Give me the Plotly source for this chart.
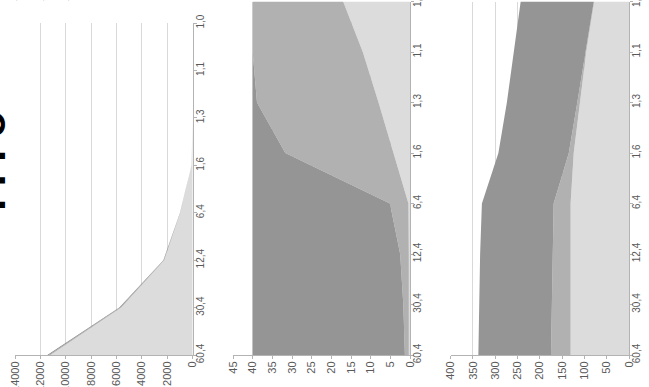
import plotly.graph_objects as go

# ---------------- data ----------------
categories = ["1,0", "1,1", "1,3", "1,6", "6,4", "12,4", "30,4", "60,4"]

# left panel (0..14000)
left_light = [0, 0, 0, 100, 980, 2240, 5620, 11200]
left_medium = [0, 0, 0, 0, 10, 40, 100, 150]
left_dark = [0, 0, 0, 0, 10, 30, 60, 100]
left_ticks = [0, 2000, 4000, 6000, 8000, 10000, 12000, 14000]

# middle panel (0..45)
mid_light = [17.0, 12.0, 8.0, 4.2, 0.4, 0.3, 0.3, 0.3]
mid_medium = [23.0, 28.0, 30.9, 27.5, 4.7, 2.2, 1.4, 1.0]
mid_dark = [0.0, 0.0, 1.1, 8.3, 34.9, 37.5, 38.3, 38.7]
mid_ticks = [0, 5, 10, 15, 20, 25, 30, 35, 40, 45]

# right panel (0..400)
right_light = [78, 96, 110, 124, 131, 131, 131, 131]
right_medium = [1, 1, 6, 11, 38, 40, 42, 44]
right_dark = [164, 162, 158, 158, 161, 163, 163, 163]
right_ticks = [0, 50, 100, 150, 200, 250, 300, 350, 400]

# fragments of labels cut off at the top edge of the picture
top_fragments = ["1", "1", "1"]

C_LIGHT = "#dcdcdc"
C_MED = "#b1b1b1"
C_DARK = "#959595"
TXT = "#595959"
GRID = "#d9d9d9"
AXL = "#b3b3b3"

W, H = 649, 387
fig = go.Figure()


def px_x(p):
    return p / W


def px_y(p):
    return (H - p) / H


def add_stack(idx, series, group):
    xa = "x" if idx == 1 else f"x{idx}"
    ya = "y" if idx == 1 else f"y{idx}"
    for vals, col in series:
        fig.add_trace(go.Scatter(
            x=vals, y=categories, orientation="h", stackgroup=group,
            mode="lines", line=dict(width=0, color=col), fillcolor=col,
            xaxis=xa, yaxis=ya, showlegend=False, hoverinfo="skip"))


add_stack(1, [(left_light, C_LIGHT), (left_medium, C_MED), (left_dark, "#7f7f7f")], "a")
add_stack(2, [(mid_light, C_LIGHT), (mid_medium, C_MED), (mid_dark, C_DARK)], "b")
add_stack(3, [(right_light, C_LIGHT), (right_medium, C_MED), (right_dark, C_DARK)], "c")

valfont = dict(family="Liberation Sans, Arial", size=11, color=TXT)
catfont = dict(family="Liberation Sans, Arial", size=10, color=TXT)

panels = [
    # (value max, ticks, left px, right px, top px of first category, bottom px)
    (14000, left_ticks, 15.0, 192.7, 23.0, 355.0),
    (45, mid_ticks, 233.0, 410.0, 1.5, 355.0),
    (400, right_ticks, 450.7, 629.0, 1.5, 355.0),
]

layout = dict(
    width=W, height=H, margin=dict(l=0, r=0, t=0, b=0, autoexpand=False),
    paper_bgcolor="white", plot_bgcolor="white",
)
for i, (vmax, ticks, xl, xr, yt, yb) in enumerate(panels, start=1):
    xk = "xaxis" if i == 1 else f"xaxis{i}"
    yk = "yaxis" if i == 1 else f"yaxis{i}"
    xa_name = "x" if i == 1 else f"x{i}"
    ya_name = "y" if i == 1 else f"y{i}"
    layout[xk] = dict(
        domain=[px_x(xl), px_x(xr)], range=[vmax, 0], anchor=ya_name,
        tickvals=ticks, ticktext=[str(t) for t in ticks],
        tickangle=-90, tickfont=valfont, automargin=False,
        ticklabelstandoff=-2,
        showgrid=True, gridcolor=GRID, gridwidth=1,
        showline=True, linecolor=AXL, linewidth=1,
        ticks="outside", ticklen=3, tickcolor=AXL,
        zeroline=False, fixedrange=True,
    )
    layout[yk] = dict(
        domain=[px_y(yb), min(1.0, px_y(yt))], range=[7, 0], anchor=xa_name,
        type="category", side="right", automargin=False,
        tickangle=-90, tickfont=catfont, ticklabelstandoff=-5,
        showgrid=False, showline=True, linecolor=AXL, linewidth=1,
        ticks="outside", ticklen=3, tickcolor=AXL,
        zeroline=False, fixedrange=True,
    )

fig.update_layout(**layout)

# cropped fragment of a large rotated heading at the left edge
fig.add_annotation(
    text="ı ı ı o", xref="paper", yref="paper",
    x=px_x(-11), y=px_y(161), xanchor="center", yanchor="middle",
    textangle=-90, showarrow=False,
    font=dict(family="Liberation Sans, Arial", size=44, color="black", weight="bold"),
)

for frag, xp in zip(top_fragments, [13, 40, 65]):
    fig.add_annotation(
        text=frag, xref="paper", yref="paper",
        x=px_x(xp), y=px_y(-2), xanchor="center", yanchor="middle",
        textangle=-90, showarrow=False,
        font=dict(family="Liberation Sans, Arial", size=10, color=TXT),
    )

fig.write_html(
    "out.html",
    config={"displayModeBar": False},
    post_script="document.body.style.margin='0px';document.body.style.padding='0px';",
)
